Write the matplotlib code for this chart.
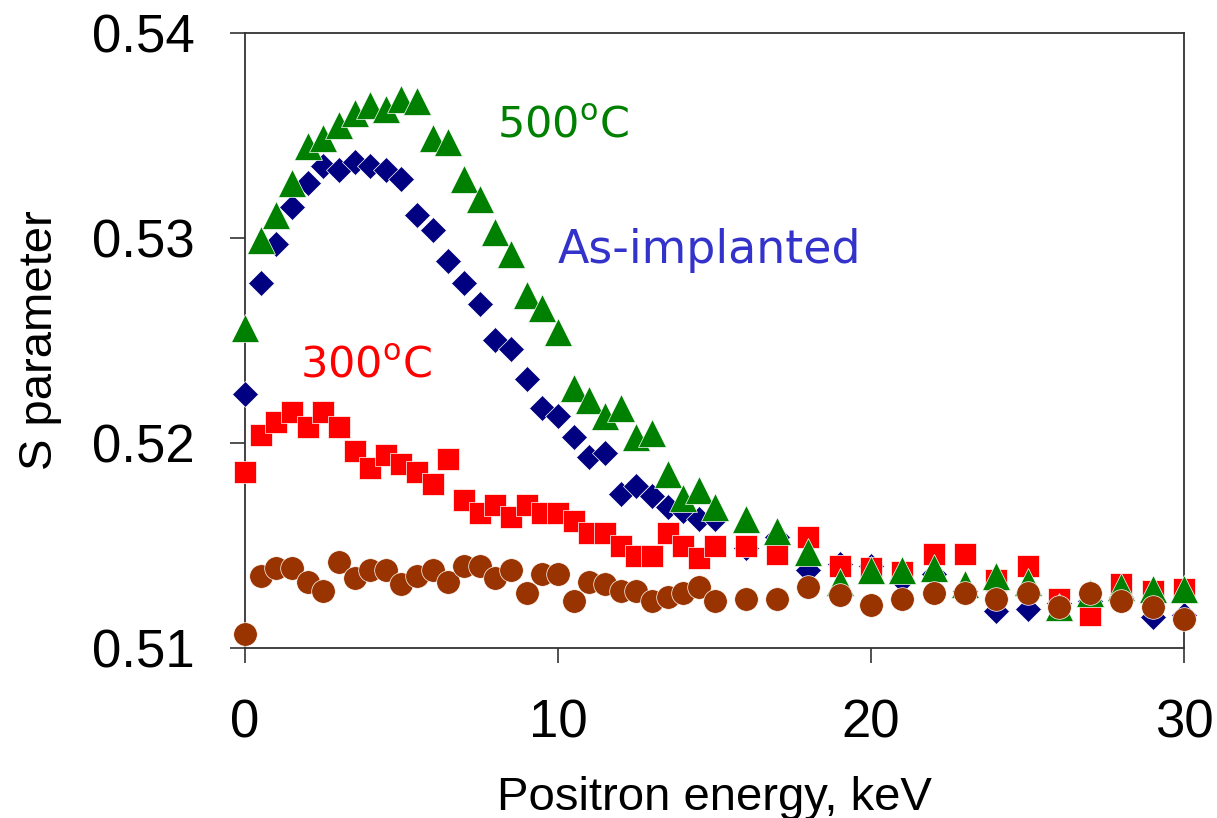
import matplotlib
matplotlib.use("Agg")
import matplotlib.pyplot as plt

# positron energy, keV (0.5 keV steps up to 15, then 1 keV)
energy = [0, 0.5, 1, 1.5, 2, 2.5, 3, 3.5, 4, 4.5, 5, 5.5, 6, 6.5, 7, 7.5,
          8, 8.5, 9, 9.5, 10, 10.5, 11, 11.5, 12, 12.5, 13, 13.5, 14, 14.5, 15,
          16, 17, 18, 19, 20, 21, 22, 23, 24, 25, 26, 27, 28, 29, 30]

s_as_implanted = [0.5224, 0.5278, 0.5297, 0.5315, 0.5327, 0.5335, 0.5333, 0.5337,
                  0.5335, 0.5333, 0.5329, 0.5311, 0.5304, 0.5289, 0.5278, 0.5268,
                  0.5250, 0.5246, 0.5231, 0.5217, 0.5213, 0.5203, 0.5193, 0.5195,
                  0.5175, 0.5179, 0.5174, 0.5169, 0.5167, 0.5163, 0.5163,
                  0.5149, 0.5154, 0.5138, 0.5141, 0.5140, 0.5133, 0.5136, 0.5128,
                  0.5118, 0.5119, 0.5122, 0.5123, 0.5125, 0.5115, 0.5116]

s_300 = [0.5186, 0.5204, 0.5210, 0.5215, 0.5208, 0.5215, 0.5208, 0.5196,
         0.5188, 0.5194, 0.5190, 0.5186, 0.5180, 0.5192, 0.5172, 0.5166,
         0.5170, 0.5164, 0.5170, 0.5166, 0.5166, 0.5162, 0.5156, 0.5156,
         0.5150, 0.5145, 0.5145, 0.5156, 0.5150, 0.5144, 0.5150,
         0.5150, 0.5146, 0.5154, 0.5140, 0.5139, 0.5137, 0.5146, 0.5146,
         0.5133, 0.5140, 0.5124, 0.5116, 0.5131, 0.5128, 0.5129]

s_500 = [0.5256, 0.5299, 0.5311, 0.5327, 0.5345, 0.5349, 0.5355, 0.5361,
         0.5365, 0.5363, 0.5368, 0.5367, 0.5349, 0.5347, 0.5329, 0.5319,
         0.5303, 0.5292, 0.5272, 0.5266, 0.5254, 0.5227, 0.5221, 0.5213,
         0.5217, 0.5203, 0.5205, 0.5185, 0.5173, 0.5177, 0.5169,
         0.5163, 0.5157, 0.5147, 0.5132, 0.5138, 0.5138, 0.5139, 0.5131,
         0.5135, 0.5132, 0.5120, 0.5127, 0.5130, 0.5129, 0.5129]

s_virgin = [0.5107, 0.5135, 0.5139, 0.5139, 0.5132, 0.5128, 0.5142, 0.5134,
            0.5138, 0.5138, 0.5131, 0.5135, 0.5138, 0.5132, 0.5140, 0.5140,
            0.5134, 0.5138, 0.5127, 0.5136, 0.5136, 0.5123, 0.5132, 0.5131,
            0.5128, 0.5128, 0.5123, 0.5125, 0.5127, 0.5130, 0.5123,
            0.5124, 0.5124, 0.5130, 0.5126, 0.5121, 0.5124, 0.5127, 0.5127,
            0.5124, 0.5127, 0.5120, 0.5127, 0.5123, 0.5120, 0.5114]

plt.rcParams["font.family"] = ["Liberation Sans", "DejaVu Sans"]

fig = plt.figure(figsize=(12.17, 8.18), dpi=100)
ax = fig.add_axes([0.2013, 0.2078, 0.7716, 0.7519])

ax.plot(energy, s_as_implanted, "D", color="#000080", ms=13.5,
        mec="white", mew=0.5, clip_on=False, zorder=3)
ax.plot(energy, s_300, "s", color="#FF0000", ms=16.5,
        mec="white", mew=0.5, clip_on=False, zorder=4)
ax.plot(energy, s_500, "^", color="#008000", ms=19.5,
        mec="white", mew=0.5, clip_on=False, zorder=5)
ax.plot(energy, s_virgin, "o", color="#993300", ms=17,
        mec="white", mew=0.5, clip_on=False, zorder=6)

ax.text(8.05, 0.5355, r"500$^\mathregular{o}$C", color="#008000",
        fontsize=31, family="DejaVu Sans", va="center", ha="left")
ax.text(10.0, 0.5294, "As-implanted", color="#3333CC",
        fontsize=33, family="DejaVu Sans", va="center", ha="left")
ax.text(1.76, 0.5238, r"300$^\mathregular{o}$C", color="#FF0000",
        fontsize=31, family="DejaVu Sans", va="center", ha="left")

ax.set_xlim(0, 30)
ax.set_ylim(0.51, 0.54)
ax.set_xticks([0, 10, 20, 30])
ax.set_yticks([0.51, 0.52, 0.53, 0.54])
ax.set_yticklabels(["0.51", "0.52", "0.53", "0.54"])
ax.tick_params(axis="both", direction="out", length=11, width=1.2,
               labelsize=38, pad=25, color="#333333")

for sp in ax.spines.values():
    sp.set_linewidth(1.3)
    sp.set_color("#333333")

ax.set_xlabel("Positron energy, keV", fontsize=34, labelpad=20)
ax.set_ylabel("S parameter", fontsize=34, labelpad=22)

fig.savefig("out.png", dpi=100)
